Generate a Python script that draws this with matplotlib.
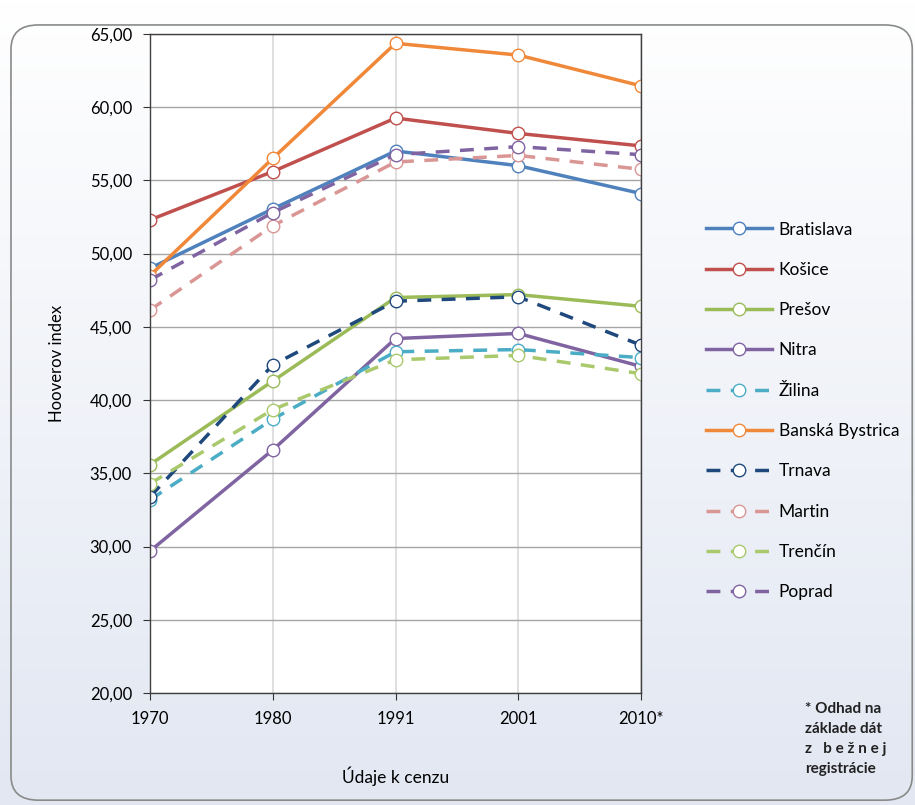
import numpy as np
import matplotlib.pyplot as plt
from matplotlib.colors import LinearSegmentedColormap
from matplotlib.patches import FancyBboxPatch

plt.rcParams['font.family'] = ['Lato', 'DejaVu Sans']

# Údaje
roky = ["1970", "1980", "1991", "2001", "2010*"]
bratislava = [49.0, 53.05, 57.0, 56.0, 54.1]
kosice = [52.3, 55.6, 59.25, 58.2, 57.35]
presov = [35.6, 41.3, 47.0, 47.2, 46.4]
nitra = [29.7, 36.6, 44.2, 44.55, 42.3]
zilina = [33.2, 38.7, 43.3, 43.45, 42.9]
banska_bystrica = [48.5, 56.5, 64.35, 63.55, 61.45]
trnava = [33.4, 42.4, 46.75, 47.05, 43.75]
martin = [46.15, 51.9, 56.25, 56.7, 55.75]
trencin = [34.3, 39.35, 42.75, 43.05, 41.8]
poprad = [48.2, 52.8, 56.75, 57.3, 56.75]

serie = [
    ("Bratislava", bratislava, "#4F81BD", "-"),
    ("Košice", kosice, "#C0504D", "-"),
    ("Prešov", presov, "#9BBB59", "-"),
    ("Nitra", nitra, "#8064A2", "-"),
    ("Žilina", zilina, "#4BACC6", "--"),
    ("Banská Bystrica", banska_bystrica, "#F0883A", "-"),
    ("Trnava", trnava, "#1F497D", "--"),
    ("Martin", martin, "#D99694", "--"),
    ("Trenčín", trencin, "#A9C96C", "--"),
    ("Poprad", poprad, "#8064A2", "--"),
]

fig = plt.figure(figsize=(9.15, 8.05), dpi=100)

# Pozadie s gradientom (hore biele, dole modrasté)
bg = fig.add_axes([0, 0, 1, 1], zorder=-10)
grad = np.linspace(0, 1, 256).reshape(-1, 1)
bg.imshow(grad, aspect="auto", extent=[0, 1, 0, 1],
          cmap=LinearSegmentedColormap.from_list("g", ["#E2E7F2", "#FFFFFF"]),
          origin="lower")
bg.add_patch(FancyBboxPatch((0.012, 0.006), 0.985, 0.963,
                            boxstyle="round,pad=0,rounding_size=0.03",
                            fill=False, edgecolor="#8A8A8A", linewidth=1.2,
                            transform=bg.transAxes))
bg.set_xlim(0, 1)
bg.set_ylim(0, 1)
bg.axis("off")

ax = fig.add_axes([0.164, 0.139, 0.5365, 0.819])
ax.set_facecolor("white")
x = np.arange(len(roky))

for nazov, hodnoty, farba, styl in serie:
    ax.plot(x, hodnoty, linestyle=styl, color=farba, linewidth=2.5,
            marker="o", markersize=9, markerfacecolor="white",
            markeredgecolor=farba, markeredgewidth=1.0, label=nazov,
            dashes=(4, 3) if styl == "--" else (None, None))

ax.set_xlim(0, 4)
ax.set_ylim(20, 65)
ax.set_xticks(x)
ax.set_xticklabels(roky)
ax.set_yticks(np.arange(20, 66, 5))
ax.set_yticklabels([f"{v:.2f}".replace(".", ",") for v in np.arange(20, 66, 5)])
ax.tick_params(axis="both", labelsize=12, direction="out", length=5, color="#333333")
ax.tick_params(axis="x", pad=8)
ax.tick_params(axis="y", pad=8)
ax.grid(axis="y", color="#A6A6A6", linewidth=1)
ax.grid(axis="x", color="#D9D9D9", linewidth=1.2)
ax.set_axisbelow(True)
for s in ax.spines.values():
    s.set_color("#404040")
    s.set_linewidth(1)

ax.set_ylabel("Hooverov index", fontsize=12, labelpad=18)
ax.set_xlabel("Údaje k cenzu", fontsize=12.5, labelpad=28)

ax.legend(loc="center left", bbox_to_anchor=(1.1, 0.428), frameon=False,
          fontsize=12.5, handlelength=3.8, labelspacing=1.4, handletextpad=0.4)

fig.text(0.88, 0.128, "* Odhad na\nzáklade dát\nz   b e ž n e j\nregistrácie",
         ha="left", va="top", fontsize=11, fontweight="bold",
         linespacing=1.55, color="#222222")

plt.savefig("out.png", dpi=100)
